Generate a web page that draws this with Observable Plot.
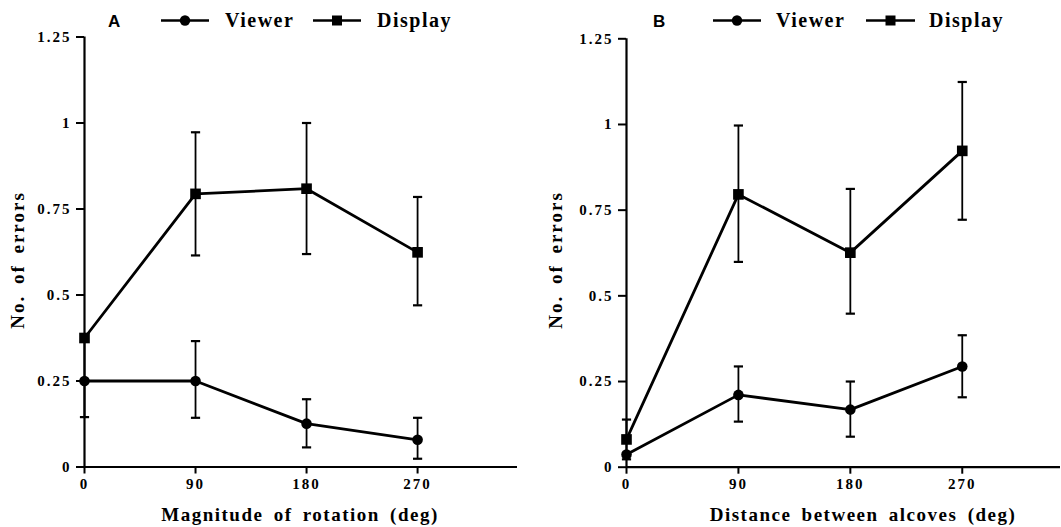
<!DOCTYPE html>
<html>
<head>
<meta charset="utf-8">
<script src="https://cdn.jsdelivr.net/npm/d3@7"></script>
<script src="https://cdn.jsdelivr.net/npm/@observablehq/plot@0.6"></script>
<style>
  html, body { margin: 0; padding: 0; background: #fff; }
  #wrap { position: relative; width: 1061px; height: 527px; overflow: hidden; background: #fff; }
  .panel { position: absolute; top: 0; }
  .panel svg { background: #fff; overflow: visible; }
  .panel g[aria-label^="x-axis"] line, .panel g[aria-label^="x-axis"] path,
  .panel g[aria-label^="y-axis"] line, .panel g[aria-label^="y-axis"] path { stroke-width: 2px; }
  #overlay { position: absolute; left: 0; top: 0; pointer-events: none; }
  .lab { font-family: "Liberation Serif", "Times New Roman", serif; font-weight: bold; fill: #000; }
</style>
</head>
<body>
<div id="wrap">
  <div id="panelA" class="panel" style="left:0px"></div>
  <div id="panelB" class="panel" style="left:530px"></div>
</div>
<script>
// ---- data ----
const angles = [0, 90, 180, 270];
const xTicks = [0, 90, 180, 270];
const yTicks = [0, 0.25, 0.5, 0.75, 1, 1.25];
const seriesNames = ["Viewer", "Display"];

// Panel A: Magnitude of rotation
const aViewer   = [0.25, 0.25, 0.126, 0.079];
const aViewerLo = [0.145, 0.143, 0.057, 0.024];
const aViewerHi = [0.365, 0.366, 0.197, 0.143];
const aDisplay   = [0.375, 0.794, 0.809, 0.624];
const aDisplayLo = [null, 0.615, 0.619, 0.47];
const aDisplayHi = [null, 0.973, 1.0, 0.785];

// Panel B: Distance between alcoves
const bViewer   = [0.037, 0.211, 0.168, 0.294];
const bViewerLo = [null, 0.133, 0.089, 0.204];
const bViewerHi = [null, 0.294, 0.25, 0.385];
const bDisplay   = [0.081, 0.796, 0.626, 0.923];
const bDisplayLo = [0.023, 0.599, 0.448, 0.722];
const bDisplayHi = [0.139, 0.997, 0.812, 1.124];

const panelLetters = ["A", "B"];
const xTitles = ["Magnitude of rotation (deg)", "Distance between alcoves (deg)"];
const yTitle = "No. of errors";

function rows(series, vals, lo, hi) {
  return angles.map((a, i) => ({series, x: a, y: vals[i], lo: lo[i], hi: hi[i]}));
}

// custom horizontal cap symbol for error bars
const capSymbol = {
  draw(context, size) {
    const h = Math.sqrt(size / Math.PI);
    context.moveTo(-h, 0);
    context.lineTo(h, 0);
  }
};

function panel(viewerRows, displayRows, opts) {
  const all = viewerRows.concat(displayRows);
  const err = all.filter(d => d.lo != null && d.hi != null);
  const caps = err.flatMap(d => [{x: d.x, y: d.lo}, {x: d.x, y: d.hi}]);
  return Plot.plot({
    width: opts.width,
    height: 527,
    marginLeft: opts.marginLeft,
    marginRight: opts.marginRight,
    marginTop: opts.marginTop,
    marginBottom: opts.marginBottom,
    style: {
      fontFamily: "'Liberation Serif', 'Times New Roman', serif",
      fontSize: "15px",
      fontWeight: "bold",
      letterSpacing: "2px",
      color: "#000",
      background: "#fff",
      overflow: "visible"
    },
    x: {domain: [0, opts.xmax], ticks: xTicks, tickSize: 7, tickPadding: 4, label: null, tickFormat: d => String(d)},
    y: {domain: [0, 1.25], ticks: yTicks, tickSize: 8, tickPadding: 5, label: null, tickFormat: d => String(d)},
    marks: [
      Plot.ruleX([0], {y1: 0, y2: 1.25, stroke: "#000", strokeWidth: 2.2}),
      Plot.ruleY([0], {stroke: "#000", strokeWidth: 2.2}),
      Plot.ruleX(err, {x: "x", y1: "lo", y2: "hi", stroke: "#000", strokeWidth: 1.8}),
      Plot.dot(caps, {x: "x", y: "y", r: 4.6, symbol: capSymbol, stroke: "#000", fill: "none", strokeWidth: 2.2}),
      Plot.line(displayRows, {x: "x", y: "y", stroke: "#000", strokeWidth: 2.8}),
      Plot.line(viewerRows, {x: "x", y: "y", stroke: "#000", strokeWidth: 2.8}),
      Plot.dot(displayRows, {x: "x", y: "y", symbol: "square", r: 6, fill: "#000", stroke: "none"}),
      Plot.dot(viewerRows, {x: "x", y: "y", symbol: "circle", r: 5.3, fill: "#000", stroke: "none"})
    ]
  });
}

const A = panel(rows("Viewer", aViewer, aViewerLo, aViewerHi), rows("Display", aDisplay, aDisplayLo, aDisplayHi),
  {width: 530, marginLeft: 84, marginRight: 13, marginTop: 36.5, marginBottom: 60.5, xmax: 351});
const B = panel(rows("Viewer", bViewer, bViewerLo, bViewerHi), rows("Display", bDisplay, bDisplayLo, bDisplayHi),
  {width: 531, marginLeft: 96, marginRight: 1, marginTop: 38.3, marginBottom: 60.3, xmax: 349});
document.getElementById("panelA").appendChild(A);
document.getElementById("panelB").appendChild(B);

// ---- overlay: panel letters, legends, axis titles ----
const ns = "http://www.w3.org/2000/svg";
const ov = document.createElementNS(ns, "svg");
ov.setAttribute("id", "overlay");
ov.setAttribute("width", 1061);
ov.setAttribute("height", 527);
document.getElementById("wrap").appendChild(ov);
function el(tag, attrs, text) {
  const e = document.createElementNS(ns, tag);
  for (const k in attrs) e.setAttribute(k, attrs[k]);
  if (text != null) e.textContent = text;
  ov.appendChild(e);
  return e;
}
const legendLayout = [
  {letterX: 108, vLine: [161, 209], vText: 225, dLine: [313, 361], dText: 377},
  {letterX: 653, vLine: [713, 761], vText: 776, dLine: [866, 915], dText: 929}
];
const xTitleCenters = [300, 863];
const yTitleCenters = [17, 555];
legendLayout.forEach((L, i) => {
  el("text", {x: L.letterX, y: 27, "font-family": "'Liberation Sans', Arial, sans-serif", "font-weight": "bold", "font-size": 17}, panelLetters[i]);
  // Viewer legend
  el("line", {x1: L.vLine[0], x2: L.vLine[1], y1: 20.5, y2: 20.5, stroke: "#000", "stroke-width": 2.5});
  el("circle", {cx: (L.vLine[0] + L.vLine[1]) / 2, cy: 20.5, r: 5.2, fill: "#000"});
  el("text", {x: L.vText, y: 27, class: "lab", "font-size": 20, "letter-spacing": "1.5px"}, seriesNames[0]);
  // Display legend
  el("line", {x1: L.dLine[0], x2: L.dLine[1], y1: 20.5, y2: 20.5, stroke: "#000", "stroke-width": 2.5});
  const cx = (L.dLine[0] + L.dLine[1]) / 2;
  el("rect", {x: cx - 5, y: 15.5, width: 10, height: 10, fill: "#000"});
  el("text", {x: L.dText, y: 27, class: "lab", "font-size": 20, "letter-spacing": "1.5px"}, seriesNames[1]);
  // x title
  el("text", {x: xTitleCenters[i], y: 521, class: "lab", "font-size": 19, "text-anchor": "middle", "letter-spacing": "1.5px", "word-spacing": "4px"}, xTitles[i]);
  // y title
  el("text", {x: 0, y: 0, class: "lab", "font-size": 19, "text-anchor": "middle", "letter-spacing": "2px", "word-spacing": "4px",
    transform: `translate(${yTitleCenters[i] + 7},260) rotate(-90)`}, yTitle);
});
</script>
</body>
</html>
